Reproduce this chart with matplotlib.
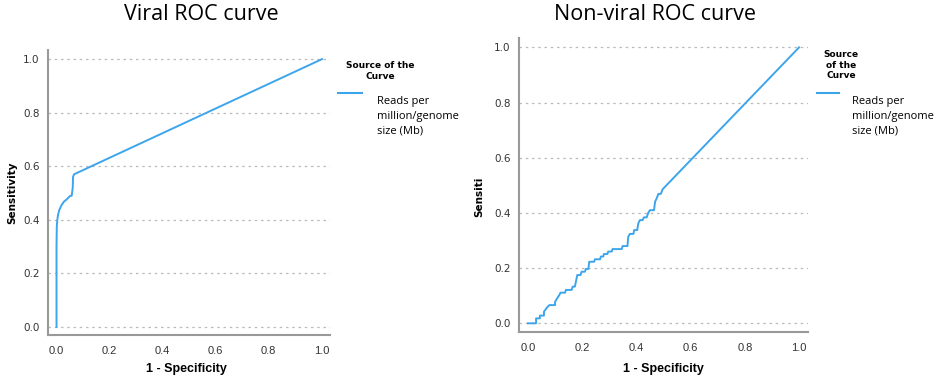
import matplotlib
matplotlib.use('Agg')
import matplotlib.pyplot as plt
from matplotlib.lines import Line2D

# ROC points (1 - specificity, sensitivity)
viral_fpr = [0.002, 0.002, 0.003, 0.005, 0.008, 0.0125, 0.021, 0.030, 0.040,
             0.053, 0.059, 0.063, 0.064, 0.068, 1.0]
viral_tpr = [0.0, 0.30, 0.375, 0.40, 0.42, 0.437, 0.455, 0.468, 0.476,
             0.489, 0.490, 0.52, 0.56, 0.57, 1.0]

nonviral_fpr = [0.0, 0.030, 0.030, 0.044, 0.044, 0.059, 0.059, 0.071, 0.079, 0.100,
                0.100, 0.108, 0.116, 0.120, 0.137, 0.140, 0.161, 0.165, 0.173,
                0.177, 0.182, 0.194, 0.198, 0.210, 0.214, 0.223, 0.226, 0.244,
                0.247, 0.266, 0.269, 0.278, 0.280, 0.293, 0.296, 0.309, 0.312,
                0.346, 0.349, 0.367, 0.370, 0.376, 0.389, 0.392, 0.403, 0.407,
                0.413, 0.423, 0.428, 0.438, 0.444, 0.450, 0.465, 0.469, 0.475,
                0.481, 0.490, 0.497, 1.0]
nonviral_tpr = [0.0, 0.0, 0.018, 0.018, 0.028, 0.028, 0.042, 0.058, 0.066, 0.066,
                0.078, 0.091, 0.103, 0.111, 0.111, 0.121, 0.121, 0.133, 0.133,
                0.151, 0.175, 0.175, 0.187, 0.187, 0.197, 0.197, 0.223, 0.223,
                0.232, 0.232, 0.242, 0.242, 0.251, 0.251, 0.260, 0.260, 0.269,
                0.269, 0.280, 0.280, 0.314, 0.324, 0.324, 0.338, 0.338, 0.362,
                0.374, 0.374, 0.384, 0.384, 0.401, 0.410, 0.410, 0.441, 0.453,
                0.469, 0.469, 0.486, 1.0]

ticks = [0.0, 0.2, 0.4, 0.6, 0.8, 1.0]
tick_labels = ['0.0', '0.2', '0.4', '0.6', '0.8', '1.0']

line_color = '#3DA5EC'
title_font = ['Open Sans', 'DejaVu Sans']
narrow_font = ['Liberation Sans', 'DejaVu Sans']

fig = plt.figure(figsize=(9.37, 3.77), dpi=100)
W, H = 937, 377


def style_axes(ax, xlim, ylim, ylabel, ylabel_x, ylabel_y, xlabel_x, title, title_x):
    ax.set_xlim(*xlim)
    ax.set_ylim(*ylim)
    ax.set_xticks(ticks)
    ax.set_xticklabels(tick_labels, family=narrow_font, fontsize=8, color='#333333')
    ax.set_yticks(ticks)
    ax.set_yticklabels(tick_labels, fontsize=7.5, color='#333333')
    ax.tick_params(axis='y', length=0, pad=6)
    ax.tick_params(axis='x', length=0, pad=8)
    for s in ['top', 'right']:
        ax.spines[s].set_visible(False)
    for s in ['left', 'bottom']:
        ax.spines[s].set_color('#999999')
        ax.spines[s].set_linewidth(1.5)
    ax.yaxis.grid(True, linestyle=(0, (2, 3)), color='#bbbbbb', linewidth=0.9)
    ax.set_axisbelow(True)
    fig.text(xlabel_x / W, 1 - 369 / H, '1 - Specificity', family=narrow_font,
             fontsize=9, fontweight='bold', ha='center', va='center')
    fig.text(ylabel_x / W, 1 - ylabel_y / H, ylabel, fontsize=7.5, fontweight='bold',
             rotation=90, ha='center', va='center')
    fig.text(title_x / W, 1 - 15 / H, title, family=title_font, fontsize=15.5,
             ha='center', va='center')


def legend(title, title_x, title_y, line_x0, line_x1, text_x):
    fig.text(title_x / W, 1 - title_y / H, title, fontsize=6.5, fontweight='bold',
             ha='center', va='center', linespacing=1.25)
    fig.add_artist(Line2D([line_x0 / W, line_x1 / W], [1 - 93 / H, 1 - 93 / H],
                          color=line_color, linewidth=1.5))
    fig.text(text_x / W, 1 - 116 / H, 'Reads per\nmillion/genome\nsize (Mb)',
             family=title_font, fontsize=8, ha='left', va='center', linespacing=1.45)


# left panel
ax1 = fig.add_axes([48 / W, 1 - 335 / H, 282 / W, 285 / H])
ax1.plot(viral_fpr, viral_tpr, color=line_color, linewidth=1.4)
style_axes(ax1, (-0.030, 1.030), (-0.030, 1.034), 'Sensitivity', 12, 193, 186,
           'Viral ROC curve', 201)
legend('Source of the\nCurve', 380, 71, 338, 362, 377)

# right panel
ax2 = fig.add_axes([519 / W, 1 - 332 / H, 289 / W, 294 / H])
ax2.plot(nonviral_fpr, nonviral_tpr, color=line_color, linewidth=1.4)
style_axes(ax2, (-0.033, 1.033), (-0.0315, 1.034), 'Sensiti', 479, 197, 663,
           'Non-viral ROC curve', 655)
legend('Source\nof the\nCurve', 841, 65, 817, 839, 852)

plt.savefig('out.png', dpi=100)
